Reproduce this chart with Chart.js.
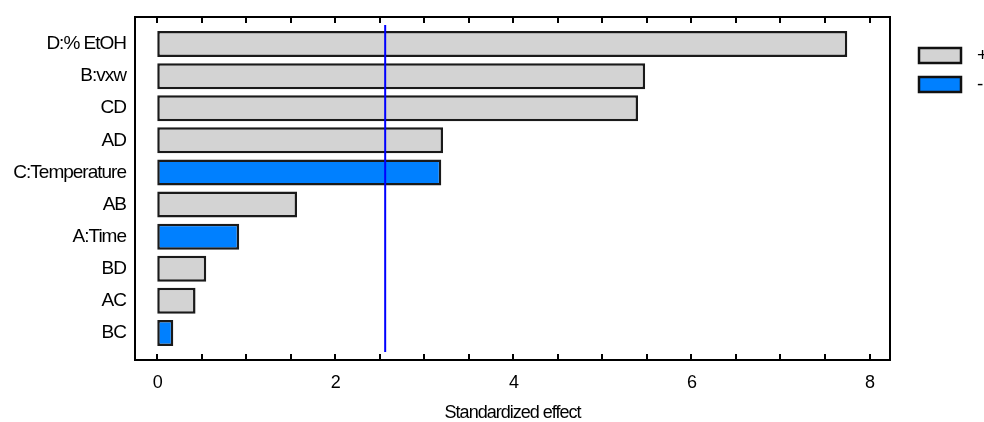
<!DOCTYPE html>
<html lang="en">
<head>
<meta charset="UTF-8">
<title>Standardized Pareto Chart</title>
<style>
    body { margin: 0; background: #fff; overflow: hidden; }
</style>
</head>
<body>
<canvas id="pareto" width="984" height="422"></canvas>
<script src="https://cdn.jsdelivr.net/npm/chart.js@4.4.0/dist/chart.umd.min.js"></script>
<script>
    var terms = ['D:% EtOH', 'B:vxw', 'CD', 'AD', 'C:Temperature', 'AB', 'A:Time', 'BD', 'AC', 'BC'];
    var effects = [7.75, 5.48, 5.40, 3.21, 3.19, 1.57, 0.92, 0.55, 0.43, 0.18];
    var signs = ['+', '+', '+', '+', '-', '+', '-', '+', '+', '-'];
    var xTicks = [0, 2, 4, 6, 8];
    var critical = 2.56;

    var FONT = 'Liberation Sans, Arial, sans-serif';

    function pick(sign) {
        return effects.map(function (v, i) { return signs[i] == sign ? v : null; });
    }

    // tight lettering for all chart text (canvas state is reset on resize)
    var tightText = {
        id: 'tightText',
        beforeLayout: function (chart) { chart.ctx.letterSpacing = '-1px'; },
        beforeDraw: function (chart) { chart.ctx.letterSpacing = '-1px'; }
    };

    // outer frame, inward ticks and the significance line
    var frame = {
        id: 'frame',
        afterDatasetsDraw: function (chart) {
            var ctx = chart.ctx, a = chart.chartArea, sx = chart.scales.x;
            var top = a.top - 11, bottom = a.bottom + 11;
            ctx.save();

            var cx = sx.getPixelForValue(critical);
            ctx.strokeStyle = '#0000ff';
            ctx.lineWidth = 2;
            ctx.beginPath();
            ctx.moveTo(cx, a.top - 3);
            ctx.lineTo(cx, a.bottom + 3);
            ctx.stroke();

            ctx.strokeStyle = '#000';
            ctx.strokeRect(a.left, top, a.right - a.left, bottom - top);

            var step = (xTicks[1] - xTicks[0]) / 4;
            for (var v = xTicks[0]; v <= xTicks[xTicks.length - 1] + 1e-9; v += step) {
                var px = Math.round(sx.getPixelForValue(v));
                ctx.beginPath();
                ctx.moveTo(px, bottom);
                ctx.lineTo(px, bottom - 6);
                ctx.moveTo(px, top);
                ctx.lineTo(px, top + 6);
                ctx.stroke();
            }
            ctx.restore();
        }
    };

    // sign legend to the right of the frame
    var signLegend = {
        id: 'signLegend',
        afterDraw: function (chart) {
            var ctx = chart.ctx;
            ctx.save();
            chart.data.datasets.forEach(function (ds, i) {
                var y = 48 + i * 29;
                ctx.fillStyle = ds.backgroundColor;
                ctx.fillRect(919, y, 42, 15);
                ctx.strokeStyle = '#111';
                ctx.lineWidth = 2.5;
                ctx.strokeRect(919, y, 42, 15);
                ctx.fillStyle = '#000';
                ctx.font = '19px ' + FONT;
                ctx.textBaseline = 'middle';
                ctx.fillText(ds.label, 977, y + 8);
            });
            ctx.restore();
        }
    };

    new Chart(document.getElementById('pareto'), {
        type: 'bar',
        data: {
            labels: terms,
            datasets: [
                {
                    label: '+',
                    data: pick('+'),
                    backgroundColor: '#d3d3d3',
                    borderColor: '#1a1a1a',
                    borderWidth: 2.5,
                    borderSkipped: false,
                    grouped: false,
                    barPercentage: 0.81,
                    categoryPercentage: 1
                },
                {
                    label: '-',
                    data: pick('-'),
                    backgroundColor: '#0080ff',
                    borderColor: '#1a1a1a',
                    borderWidth: 2.5,
                    borderSkipped: false,
                    grouped: false,
                    barPercentage: 0.81,
                    categoryPercentage: 1
                }
            ]
        },
        options: {
            indexAxis: 'y',
            responsive: false,
            animation: false,
            layout: { padding: { top: 28, right: 94, bottom: 0, left: 0 } },
            plugins: {
                legend: { display: false },
                tooltip: { enabled: false }
            },
            scales: {
                x: {
                    type: 'linear',
                    min: -0.25,
                    max: 8.23,
                    afterBuildTicks: function (s) {
                        s.ticks = xTicks.map(function (v) { return { value: v }; });
                    },
                    afterFit: function (s) { s.height = 73; },
                    grid: { display: false },
                    border: { display: false },
                    ticks: {
                        color: '#000',
                        padding: 15,
                        font: { family: FONT, size: 18 }
                    },
                    title: {
                        display: true,
                        text: 'Standardized effect',
                        color: '#000',
                        padding: { top: 0, bottom: 0 },
                        font: { family: FONT, size: 18, lineHeight: 1 }
                    }
                },
                y: {
                    afterFit: function (s) { s.width = 135; },
                    grid: { display: false },
                    border: { display: false },
                    ticks: {
                        color: '#000',
                        padding: 1,
                        font: { family: FONT, size: 19 }
                    }
                }
            }
        },
        plugins: [tightText, frame, signLegend]
    });
</script>
</body>
</html>
